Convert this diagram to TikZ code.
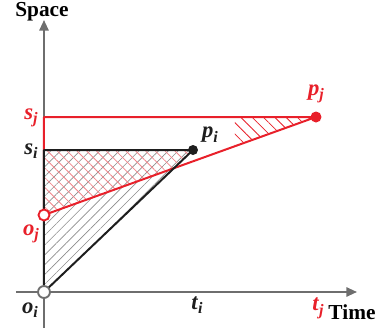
\documentclass[tikz,border=0pt]{standalone}
\usepackage{fontspec}
\setmainfont{Liberation Serif}
\usetikzlibrary{arrows.meta,patterns.meta,calc}
\definecolor{ink}{HTML}{1E1E1E}
\definecolor{axisgray}{HTML}{6E6E6E}
\definecolor{redline}{HTML}{E8202A}
\definecolor{hatchgray}{HTML}{8C8C8C}
\newcommand\varlbl[2]{\textbf{\textit{#1}}\raisebox{-0.45ex}{\fontsize{12}{12}\selectfont\bfseries\itshape #2}}

\begin{document}
\begin{tikzpicture}[x=0.75pt,y=-0.75pt,
  axisline/.style={axisgray,line width=1.4pt,-{Triangle[length=8pt,width=7pt]}},
  blackline/.style={ink,line width=1.5pt,line join=round},
  redtri/.style={redline,line width=1.5pt,line join=round},
  lbl/.style={font=\fontsize{17}{17}\selectfont}]
\useasboundingbox (0,0) rectangle (387,329);
% points
\coordinate (oi) at (44,292);
\coordinate (oj) at (44,215);
\coordinate (si) at (44,150);
\coordinate (sj) at (44,117);
\coordinate (pi) at (193,150);
\coordinate (pj) at (316,117);
\coordinate (cross) at (intersection of oj--pj and oi--pi);
\coordinate (rh) at (235,117);
\coordinate (rl) at ($(oj)!0.702!(pj)$);
% hatching
\fill[pattern={Lines[angle=45,distance=5.2pt,line width=0.5pt]},pattern color=hatchgray] (oi) -- (pi) -- (si) -- cycle;
\fill[pattern={Lines[angle=-45,distance=5.2pt,line width=0.6pt]},pattern color=redline!55] (oj) -- (cross) -- (pi) -- (si) -- cycle;
\fill[pattern={Lines[angle=-45,distance=6pt,line width=0.6pt]},pattern color=redline] (rh) -- (pj) -- (rl) -- cycle;
% axes
\draw[axisline] (44,328) -- (44,20);
\draw[axisline] (16,292) -- (357,292);
% triangles
\draw[redtri] (oj) -- (sj) -- (pj) -- cycle;
\draw[blackline] (oi) -- (si) -- (pi) -- cycle;
% dots
\fill[ink] (pi) circle (5);
\fill[redline] (pj) circle (5.5);
\draw[redline,line width=1.4pt,fill=white] (oj) circle (5.5);
\draw[axisgray,line width=1.4pt,fill=white] (oi) circle (6);
% labels
\node[font=\fontsize{16}{16}\selectfont\bfseries] (space) at (42,12) {Space};
\node[font=\fontsize{16}{16}\selectfont\bfseries] (time) at (352,312) {Time};
\foreach \n/\x/\y/\v/\s/\c in {lsj/31/118/s/j/redline,lsi/31/151/s/i/ink,loj/31/234/o/j/redline,loi/30/310/o/i/ink,lti/197/305/t/i/ink,ltj/318/308/t/j/redline,lpi/210/135/p/i/ink,lpj/316/94/p/j/redline}{
  \node[lbl,text=\c] (\n) at (\x,\y) {\varlbl{\v}{\s}};
}
\end{tikzpicture}
\end{document}
